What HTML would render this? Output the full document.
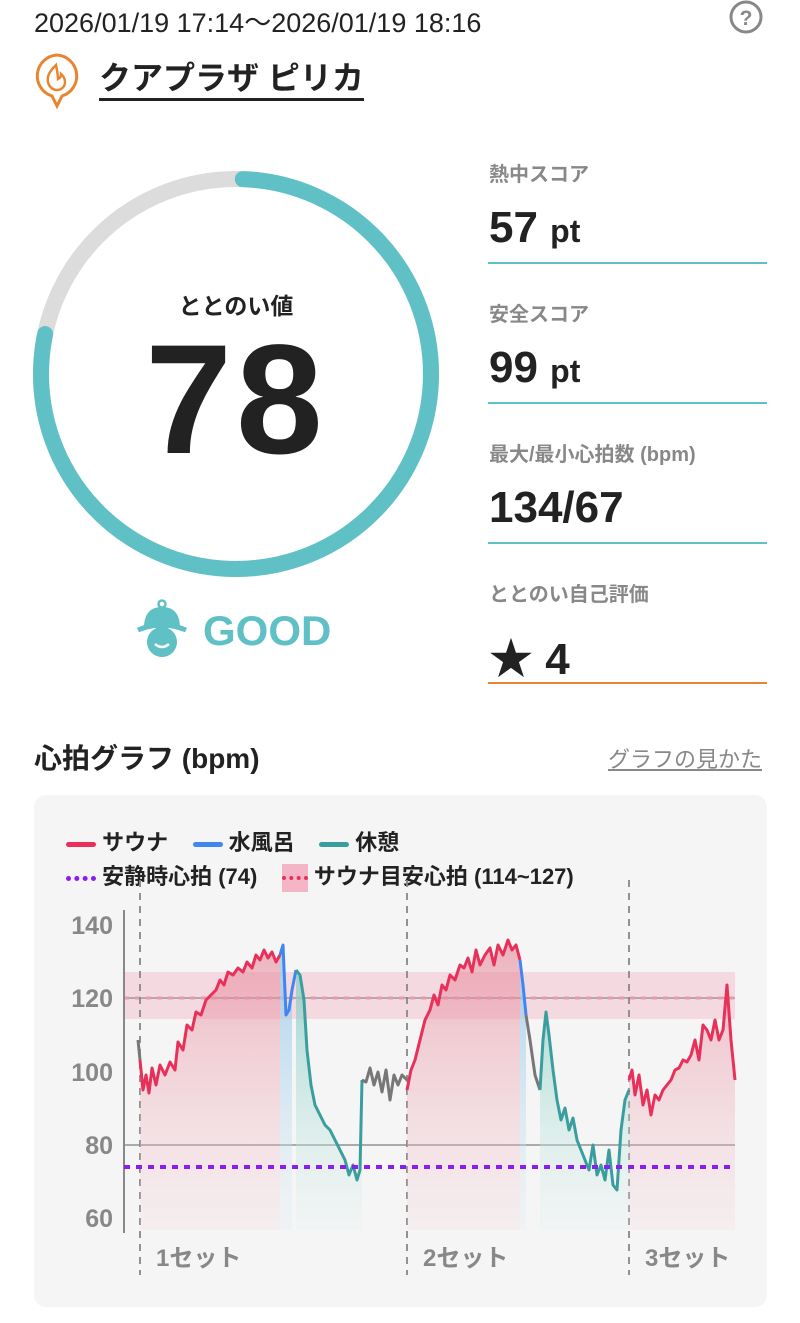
<!DOCTYPE html>
<html><head><meta charset="utf-8"><style>
body{margin:0;width:800px;height:1323px;background:#fff;position:relative;overflow:hidden;font-family:"Liberation Sans","Noto Sans CJK JP",sans-serif;color:#222}
.a{position:absolute;white-space:nowrap}
.lab{font-size:20px;color:#888;font-weight:bold}
.val{font-size:44px;font-weight:bold;color:#222}
.val small{font-size:32px;font-weight:bold}
.ln{position:absolute;left:488px;width:279px;height:2px;background:#5fc0c6}
</style></head><body>
<div class="a" style="left:34px;top:1px;font-size:27px;color:#222">2026/01/19 17:14～2026/01/19 18:16</div>
<svg class="a" style="left:728px;top:0" width="36" height="36"><circle cx="18" cy="17" r="15" fill="none" stroke="#888" stroke-width="3"/><text x="18" y="25" text-anchor="middle" font-size="21" font-weight="bold" fill="#888" font-family="Liberation Sans">?</text></svg>
<svg class="a" style="left:32px;top:52px" width="50" height="58"><path d="M25 3a21 21 0 0 1 5 41l-5 10-5-10A21 21 0 0 1 25 3z" fill="none" stroke="#e88530" stroke-width="3"/><path d="M24 13c-7 7-9 11-8 17 1 5 5 8 9 8s8-3 8-8c0-4-2-6-4-8 0 3-1 4-3 5 0-4-1-9-2-14z" fill="none" stroke="#e88530" stroke-width="2.5"/></svg>
<div class="a" style="left:99px;top:58px;font-size:32px;font-weight:bold;border-bottom:3px solid #222;line-height:40px">クアプラザ ピリカ</div>

<svg class="a" style="left:0;top:140px" width="480" height="460">
<circle cx="236" cy="234" r="195" fill="none" stroke="#dcdcdc" stroke-width="16"/>
<circle cx="236" cy="234" r="195" fill="none" stroke="#5fc0c6" stroke-width="16" stroke-linecap="round" stroke-dasharray="952 1300" transform="rotate(-88 236 234)"/>
</svg>
<div class="a" style="left:136px;top:287px;width:200px;text-align:center;font-size:23px;font-weight:bold">ととのい値</div>
<div class="a" style="left:36px;top:318px;width:400px;text-align:center;font-size:156px;font-weight:bold;line-height:165px;letter-spacing:4px">78</div>
<svg class="a" style="left:136px;top:598px" width="56" height="64"><circle cx="26" cy="6" r="3.5" fill="none" stroke="#5fc0c6" stroke-width="2.5"/><path d="M8 30C8 14 16 9 26 9s18 5 18 21z" fill="#5fc0c6"/><path d="M2 32q24-10 48 0" stroke="#5fc0c6" stroke-width="5" fill="none"/><circle cx="26" cy="44" r="15" fill="#5fc0c6"/><path d="M19 46q7 6 14 0" stroke="#fff" stroke-width="2.5" fill="none"/></svg>
<div class="a" style="left:203px;top:607px;font-size:42px;font-weight:bold;color:#5fc0c6">GOOD</div>

<div class="a lab" style="left:489px;top:158px">熱中スコア</div>
<div class="a val" style="left:489px;top:203px">57 <small>pt</small></div>
<div class="ln" style="top:262px"></div>
<div class="a lab" style="left:489px;top:298px">安全スコア</div>
<div class="a val" style="left:489px;top:343px">99 <small>pt</small></div>
<div class="ln" style="top:402px"></div>
<div class="a lab" style="left:489px;top:438px">最大/最小心拍数 (bpm)</div>
<div class="a val" style="left:489px;top:483px">134/67</div>
<div class="ln" style="top:542px"></div>
<div class="a lab" style="left:489px;top:578px">ととのい自己評価</div>
<div class="a val" style="left:489px;top:623px">★ 4</div>
<div class="ln" style="top:682px;background:#e88530"></div>

<div class="a" style="left:34px;top:737px;font-size:28px;font-weight:bold">心拍グラフ (bpm)</div>
<div class="a" style="left:608px;top:742px;font-size:22px;color:#888;text-decoration:underline">グラフの見かた</div>

<div class="a" style="left:34px;top:795px;width:733px;height:512px;background:#f5f5f5;border-radius:12px"></div>
<div class="a" style="left:66px;top:829px;font-size:22px;font-weight:bold;line-height:28px">
<span style="display:inline-block;width:30px;height:5px;background:#e8305a;border-radius:3px;vertical-align:middle"></span> サウナ&nbsp;&nbsp;&nbsp;
<span style="display:inline-block;width:30px;height:5px;background:#3f86f0;border-radius:3px;vertical-align:middle"></span> 水風呂&nbsp;&nbsp;&nbsp;
<span style="display:inline-block;width:30px;height:5px;background:#3a9e9e;border-radius:3px;vertical-align:middle"></span> 休憩</div>
<div class="a" style="left:66px;top:863px;font-size:22px;font-weight:bold;line-height:28px">
<span style="display:inline-block;width:30px;border-top:5px dotted #8a1ef0;vertical-align:middle"></span> 安静時心拍 (74)&nbsp;&nbsp;&nbsp;
<span style="display:inline-block;width:26px;height:28px;background:#f4b6c6;vertical-align:middle;position:relative"><span style="position:absolute;left:0;top:12px;width:26px;border-top:4px dotted #e8305a"></span></span> サウナ目安心拍 (114~127)</div>

<svg class="a" style="left:0;top:0" width="800" height="1323">
<defs>
<linearGradient id="gr" x1="0" y1="940" x2="0" y2="1230" gradientUnits="userSpaceOnUse"><stop offset="0" stop-color="#e47b8e" stop-opacity=".55"/><stop offset="1" stop-color="#f5d0d8" stop-opacity=".2"/></linearGradient>
<linearGradient id="gb" x1="0" y1="940" x2="0" y2="1230" gradientUnits="userSpaceOnUse"><stop offset="0" stop-color="#8ec3e8" stop-opacity=".8"/><stop offset="1" stop-color="#d8ebf5" stop-opacity=".2"/></linearGradient>
<linearGradient id="gt" x1="0" y1="1000" x2="0" y2="1230" gradientUnits="userSpaceOnUse"><stop offset="0" stop-color="#8ccfc6" stop-opacity=".7"/><stop offset="1" stop-color="#dff2ef" stop-opacity=".2"/></linearGradient>
</defs>
<rect x="124" y="972" width="611" height="47" fill="#f3c6d2" opacity=".6"/>
<line x1="124" y1="1145" x2="735" y2="1145" stroke="#aaa" stroke-width="2"/>
<line x1="124" y1="998" x2="735" y2="998" stroke="#999" stroke-width="1.5"/>
<line x1="124" y1="998" x2="735" y2="998" stroke="#e69aae" stroke-width="3" stroke-dasharray="5 6"/>
<g stroke="#888" stroke-width="1.8" stroke-dasharray="7 6"><line x1="140" y1="880" x2="140" y2="1275"/><line x1="407" y1="880" x2="407" y2="1275"/><line x1="629" y1="880" x2="629" y2="1275"/></g>
<line x1="124" y1="910" x2="124" y2="1233" stroke="#888" stroke-width="2"/>
<g font-size="25" font-weight="bold" fill="#888" text-anchor="end" font-family="Liberation Sans"><text x="113" y="934">140</text><text x="113" y="1007">120</text><text x="113" y="1081">100</text><text x="113" y="1154">80</text><text x="113" y="1227">60</text></g>
<polygon fill="url(#gr)" points="140,1230 140,1060 143,1090 146,1075 149,1093 152,1068 156,1085 160,1065 165,1075 170,1062 175,1070 178,1042 183,1050 187,1025 192,1030 196,1012 201,1015 206,1000 211,995 216,990 220,980 224,985 228,972 233,975 238,968 243,972 247,962 252,968 256,955 260,960 264,950 268,958 272,952 276,962 280,955 280,1230"/>
<polygon fill="url(#gb)" points="280,1230 280,955 283,945 286,1015 289,1010 292,990 292,1230"/>
<polygon fill="url(#gt)" points="296,1230 296,970 300,975 304,1000 307,1050 311,1085 315,1105 320,1115 325,1125 330,1130 335,1140 340,1150 345,1160 349,1175 353,1165 357,1180 360,1170 362,1080 362,1230"/>
<polygon fill="url(#gr)" points="407,1230 407,1090 411,1070 415,1060 420,1040 425,1020 430,1010 434,995 438,1005 442,985 446,990 450,975 455,980 460,965 464,968 468,958 472,972 476,950 480,965 485,955 490,948 494,965 498,945 503,955 508,940 512,950 516,945 520,960 520,1230"/>
<polygon fill="url(#gb)" points="520,1230 520,960 523,985 526,1015 526,1230"/>
<polygon fill="url(#gt)" points="540,1230 540,1090 543,1040 546,1012 549,1035 553,1070 557,1100 561,1120 565,1108 569,1130 573,1118 577,1140 581,1150 585,1160 589,1170 593,1145 597,1175 601,1165 605,1180 609,1150 613,1185 617,1190 621,1130 625,1100 629,1090 629,1230"/>
<polygon fill="url(#gr)" points="629,1230 629,1080 632,1070 635,1095 639,1075 643,1105 647,1090 651,1115 655,1095 659,1100 663,1090 667,1085 671,1080 675,1070 679,1068 683,1060 687,1062 691,1055 695,1040 699,1060 703,1025 707,1030 711,1040 715,1020 719,1040 723,1030 727,985 731,1040 735,1080 735,1230"/>
<g fill="none" stroke-width="3" stroke-linejoin="round">
<polyline stroke="#777" points="138,1040 140,1060"/>
<polyline stroke="#e8305a" points="140,1060 143,1090 146,1075 149,1093 152,1068 156,1085 160,1065 165,1075 170,1062 175,1070 178,1042 183,1050 187,1025 192,1030 196,1012 201,1015 206,1000 211,995 216,990 220,980 224,985 228,972 233,975 238,968 243,972 247,962 252,968 256,955 260,960 264,950 268,958 272,952 276,962 280,955"/>
<polyline stroke="#3f86f0" points="280,955 283,945 286,1015 289,1010 292,990 296,970"/>
<polyline stroke="#3a9e9e" points="296,970 300,975 304,1000 307,1050 311,1085 315,1105 320,1115 325,1125 330,1130 335,1140 340,1150 345,1160 349,1175 353,1165 357,1180 360,1170 362,1080"/>
<polyline stroke="#777" points="362,1080 366,1082 370,1068 374,1085 378,1072 382,1092 386,1070 390,1100 394,1075 398,1085 402,1075 407,1080"/>
<polyline stroke="#e8305a" points="407,1090 411,1070 415,1060 420,1040 425,1020 430,1010 434,995 438,1005 442,985 446,990 450,975 455,980 460,965 464,968 468,958 472,972 476,950 480,965 485,955 490,948 494,965 498,945 503,955 508,940 512,950 516,945 520,960"/>
<polyline stroke="#3f86f0" points="520,960 523,985 526,1015"/>
<polyline stroke="#777" points="526,1015 530,1040 535,1075 540,1090"/>
<polyline stroke="#3a9e9e" points="540,1090 543,1040 546,1012 549,1035 553,1070 557,1100 561,1120 565,1108 569,1130 573,1118 577,1140 581,1150 585,1160 589,1170 593,1145 597,1175 601,1165 605,1180 609,1150 613,1185 617,1190 621,1130 625,1100 629,1090"/>
<polyline stroke="#e8305a" points="629,1080 632,1070 635,1095 639,1075 643,1105 647,1090 651,1115 655,1095 659,1100 663,1090 667,1085 671,1080 675,1070 679,1068 683,1060 687,1062 691,1055 695,1040 699,1060 703,1025 707,1030 711,1040 715,1020 719,1040 723,1030 727,985 731,1040 735,1080"/>
</g>
<line x1="124" y1="1167" x2="735" y2="1167" stroke="#8a1ef0" stroke-width="4" stroke-dasharray="6 6"/>
<g font-size="24" font-weight="bold" fill="#888" font-family="Liberation Sans,Noto Sans CJK JP"><text x="156" y="1266">1セット</text><text x="423" y="1266">2セット</text><text x="645" y="1266">3セット</text></g>
</svg>
</body></html>
